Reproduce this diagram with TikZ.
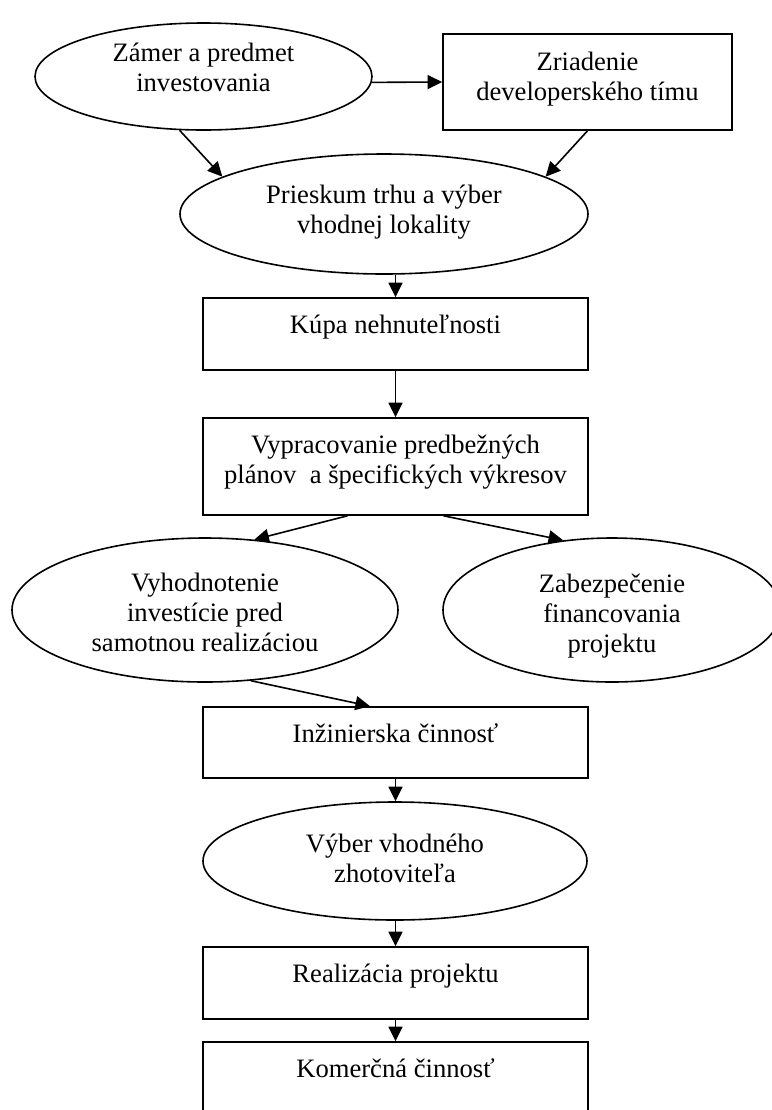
\documentclass[tikz,border=0pt]{standalone}
\usepackage{fontspec}
\setmainfont{Liberation Serif}
\usetikzlibrary{shapes.geometric,arrows.meta}
\newcommand{\vrch}[1]{\rule{0pt}{#1}}
\newcommand{\spodok}[1]{\rule[-#1]{0pt}{#1}}
\begin{document}
\begin{tikzpicture}[x=0.5pt, y=-0.5pt, line width=0.8pt,
    blok/.style={draw, rectangle, inner sep=0pt, minimum width=192.5pt, align=center,
      font=\fontsize{13.3pt}{15pt}\selectfont},
    elipsa/.style={draw, ellipse, inner sep=0pt, align=center,
      font=\fontsize{13.3pt}{15pt}\selectfont},
    sipka/.style={-{Triangle[length=7.3pt, width=7pt]}}]
      \clip (0,0) rectangle (772,1110);
      % top row
      \node[elipsa, minimum width=168.5pt, minimum height=53.5pt] (zamer) at (203.5,76.5)
        {\vrch{10pt}Zámer a predmet\\investovania\spodok{10.5pt}};
      \node[blok, minimum width=144.5pt] (zriadenie) at (587.5,82)
        {\vrch{18pt}Zriadenie\\developerského tímu\spodok{15pt}};
      \node[elipsa, minimum width=204pt, minimum height=60pt] (prieskum) at (384,214)
        {\vrch{10pt}Prieskum trhu a výber\\vhodnej lokality\spodok{6pt}};
      \node[blok] (kupa) at (395.5,334)
        {\vrch{17.5pt}Kúpa nehnuteľnosti\spodok{18.5pt}};
      \node[blok] (vypracovanie) at (395.5,466.5)
        {\vrch{17.5pt}Vypracovanie predbežných\\plánov\ \ a špecifických výkresov\spodok{16pt}};
      % middle row
      \node[elipsa, minimum width=193pt, minimum height=72pt] (vyhodnotenie) at (205,610)
        {\vrch{12pt}Vyhodnotenie\\investície pred\\samotnou realizáciou};
      \node[elipsa, minimum width=169pt, minimum height=72pt] (zabezpecenie) at (612,610)
        {\vrch{15pt}Zabezpečenie\\financovania\\projektu\spodok{3pt}};
      % bottom part
      \node[blok] (inzinierska) at (395.5,742.5)
        {\vrch{17.5pt}Inžinierska činnosť\spodok{18pt}};
      \node[elipsa, minimum width=192pt, minimum height=59pt] (vyber) at (395,861)
        {\vrch{12pt}Výber vhodného\\zhotoviteľa\spodok{6pt}};
      \node[blok] (realizacia) at (395.5,983)
        {\vrch{17.5pt}Realizácia projektu\spodok{18.5pt}};
      \node[blok] (komercna) at (395.5,1078)
        {\vrch{17.5pt}Komerčná činnosť\spodok{18.5pt}};
      % arrows
      \draw[sipka] (zamer.-2) -- (zriadenie.west);
      \draw[sipka] (zamer.-114) -- (prieskum.167);
      \draw[sipka] (zriadenie.south) -- (prieskum.13);
      \draw[sipka] (prieskum.south -| kupa.north) -- (kupa.north);
      \draw[sipka] (kupa.south) -- (vypracovanie.north);
      \draw[sipka] ([xshift=-24pt]vypracovanie.south) -- (vyhodnotenie.55);
      \draw[sipka] ([xshift=24pt]vypracovanie.south) -- (zabezpecenie.125);
      \draw[sipka] (vyhodnotenie.-57) -- ([xshift=-12.75pt]inzinierska.north);
      \draw[sipka] (inzinierska.south) -- (vyber.north -| inzinierska.south);
      \draw[sipka] (vyber.south -| realizacia.north) -- (realizacia.north);
      \draw[sipka] (realizacia.south) -- (komercna.north);
    \end{tikzpicture}
\end{document}
